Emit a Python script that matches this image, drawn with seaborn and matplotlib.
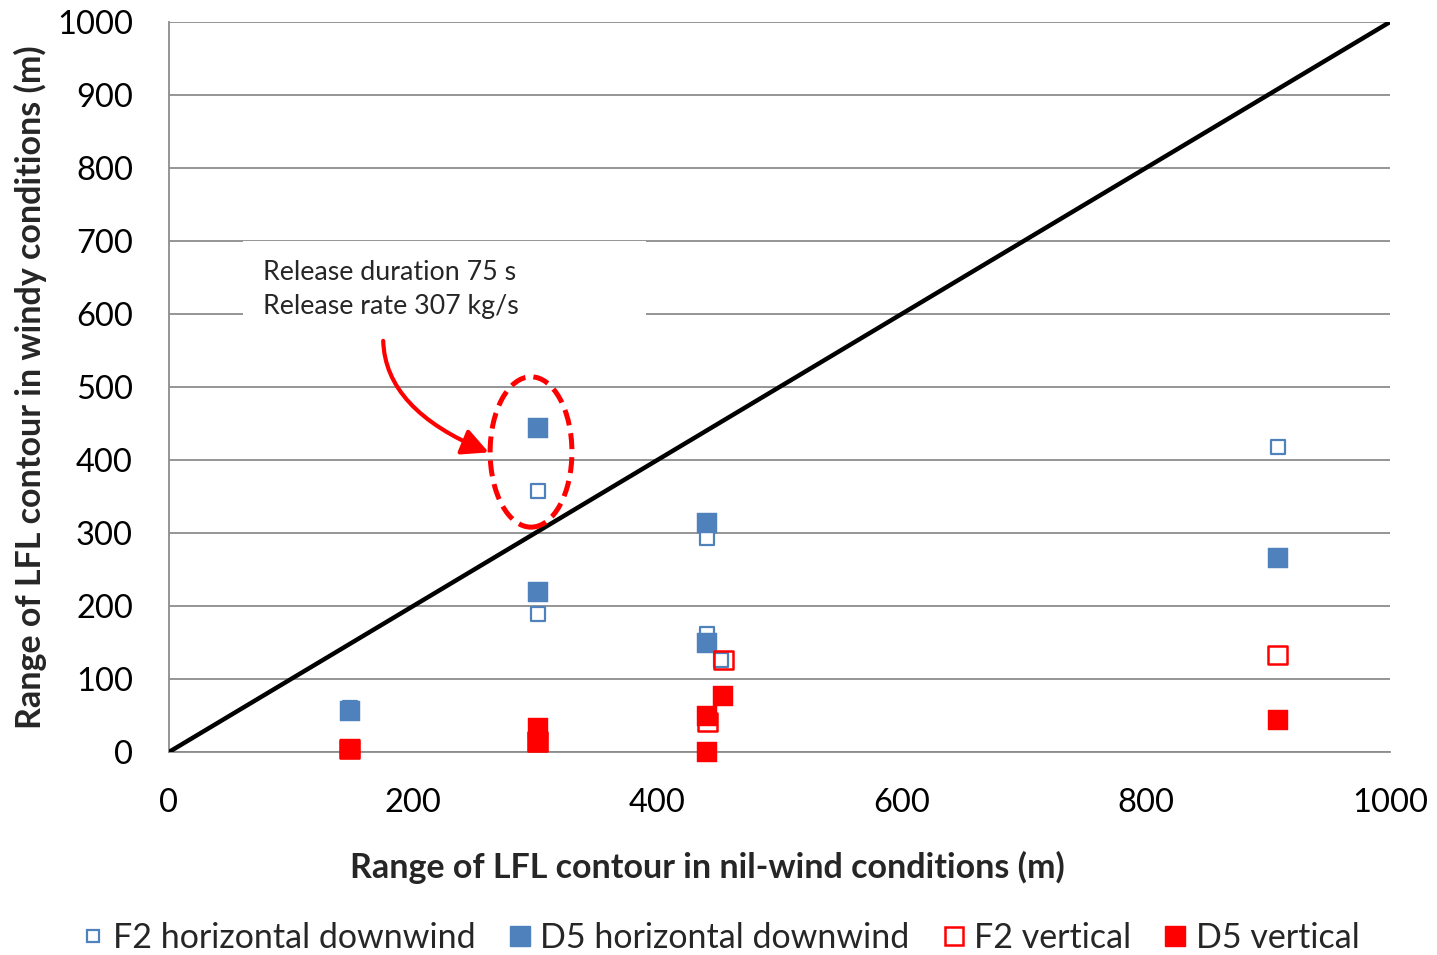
import matplotlib
matplotlib.use("Agg")
import matplotlib.pyplot as plt
import seaborn as sns
import pandas as pd
from matplotlib.patches import Ellipse, Rectangle, FancyArrowPatch
from matplotlib.lines import Line2D

# ---- data ----
f2_h_x = [148, 302, 302, 441, 441, 452, 908]
f2_h_y = [60, 358, 189, 293, 162, 126, 418]
d5_h_x = [148, 302, 302, 441, 441, 908]
d5_h_y = [56, 444, 219, 314, 150, 266]
f2_v_x = [148, 302, 441, 454, 908]
f2_v_y = [4, 14, 41, 126, 133]
d5_v_x = [148, 302, 302, 441, 441, 454, 908]
d5_v_y = [4, 33, 14, 49, 0, 77, 44]
diag_x = [0, 1000]
diag_y = [0, 1000]

x_ticks = [0, 200, 400, 600, 800, 1000]
y_ticks = [0, 100, 200, 300, 400, 500, 600, 700, 800, 900, 1000]

series_names = ["F2 horizontal downwind", "D5 horizontal downwind", "F2 vertical", "D5 vertical"]
annotation_text = "Release duration 75 s\nRelease rate 307 kg/s"
x_label = "Range of LFL contour in nil-wind conditions (m)"
y_label = "Range of LFL contour in windy conditions (m)"

BLUE = "#4F81BD"
RED = "#FF0000"
GRID = "#8C8C8C"

sns.set_theme(style="white")
plt.rcParams["font.family"] = ["Lato", "DejaVu Sans"]

fig = plt.figure(figsize=(14.37, 9.55), dpi=100)
ax = fig.add_axes([169 / 1437, 1 - 752 / 955, (1390 - 169) / 1437, (752 - 22) / 955])

ax.set_xlim(0, 1000)
ax.set_ylim(0, 1000)

ax.set_yticks(y_ticks)
ax.set_xticks(x_ticks)
ax.yaxis.grid(True, color=GRID, linewidth=1.3, zorder=0)
ax.xaxis.grid(False)
ax.set_axisbelow(True)

for side in ["top", "right"]:
    ax.spines[side].set_visible(False)
for side in ["left", "bottom"]:
    ax.spines[side].set_color(GRID)
    ax.spines[side].set_linewidth(1.3)

ax.tick_params(axis="both", which="major", labelsize=23.5, colors=GRID, labelcolor="black",
               length=8, width=1.3, direction="out")
ax.tick_params(axis="x", pad=18)
ax.tick_params(axis="y", pad=18)

# diagonal line
sns.lineplot(x=diag_x, y=diag_y, ax=ax, color="black", linewidth=3.2, zorder=3, legend=False)

# annotation box (white background covering gridlines)
ax.add_patch(Rectangle((60.6, 570), 330, 129.5, facecolor="white", edgecolor="none", zorder=1))
ax.text(77, 633, annotation_text, fontsize=19.3, va="center", ha="left", linespacing=1.45, zorder=2)

# scatter series
common = dict(ax=ax, marker="s", zorder=4, clip_on=False, legend=False)
df1 = pd.DataFrame({"x": f2_h_x, "y": f2_h_y})
df2 = pd.DataFrame({"x": d5_h_x, "y": d5_h_y})
df3 = pd.DataFrame({"x": f2_v_x, "y": f2_v_y})
df4 = pd.DataFrame({"x": d5_v_x, "y": d5_v_y})
sns.scatterplot(data=df1, x="x", y="y", s=95, facecolor="white", edgecolor=BLUE, linewidth=1.6, **common)
sns.scatterplot(data=df2, x="x", y="y", s=200, color=BLUE, edgecolor=BLUE, linewidth=0.3, **common)
sns.scatterplot(data=df3, x="x", y="y", s=180, facecolor="none", edgecolor=RED, linewidth=1.8, **common)
sns.scatterplot(data=df4, x="x", y="y", s=200, color=RED, edgecolor=RED, linewidth=0.3, **common)

# ellipse and arrow
ax.add_patch(Ellipse((296.5, 411), 67, 206, fill=False, edgecolor=RED, linewidth=3.6,
                     linestyle=(0, (3.2, 1.6)), zorder=5))
arrow = FancyArrowPatch((175.4, 567), (264, 409), connectionstyle="angle3,angleA=90,angleB=-22",
                        arrowstyle="-|>,head_length=10,head_width=5", color=RED,
                        linewidth=3.0, zorder=5, mutation_scale=1.6)
ax.add_patch(arrow)

ax.set_xlabel(x_label, fontsize=24.5, fontweight="bold")
ax.set_ylabel(y_label, fontsize=24.5, fontweight="bold")
ax.xaxis.set_label_coords((707 - 169) / 1221, -0.136)
ax.yaxis.set_label_coords(-0.1, 0.5)

# legend
handles = [
    Line2D([], [], marker="s", linestyle="none", markersize=9, markerfacecolor="white", markeredgecolor=BLUE, markeredgewidth=1.6),
    Line2D([], [], marker="s", linestyle="none", markersize=14, markerfacecolor=BLUE, markeredgecolor=BLUE),
    Line2D([], [], marker="s", linestyle="none", markersize=13, markerfacecolor="white", markeredgecolor=RED, markeredgewidth=1.8),
    Line2D([], [], marker="s", linestyle="none", markersize=14, markerfacecolor=RED, markeredgecolor=RED),
]
fig.legend(handles, series_names, loc="center", bbox_to_anchor=((80 + 1362) / 2 / 1437, 1 - 938 / 955), ncol=4,
           frameon=False, fontsize=24.5, handlelength=0.6, handletextpad=0.3, columnspacing=1.0)

fig.savefig("out.png", dpi=100)
